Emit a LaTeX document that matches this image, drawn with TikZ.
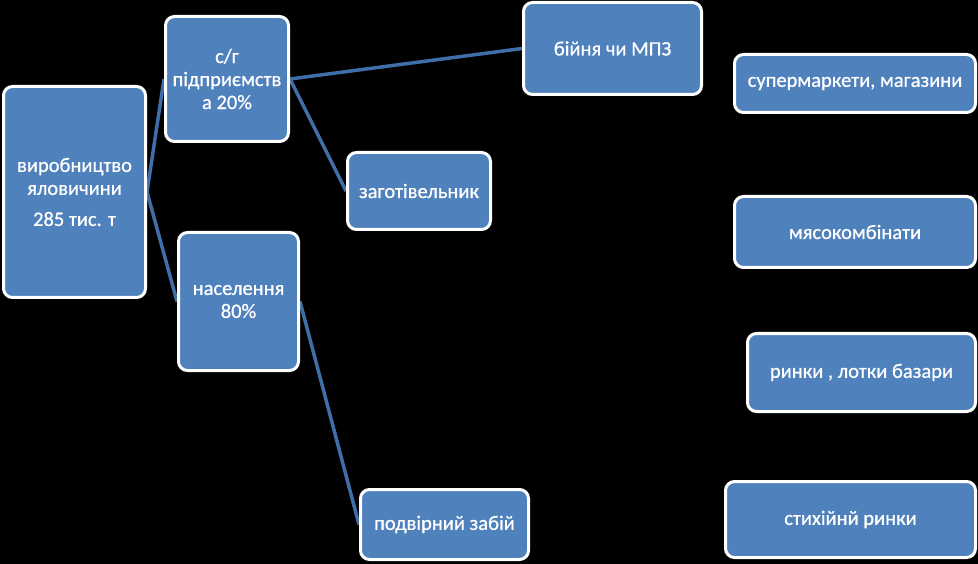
\documentclass[tikz,border=0pt]{standalone}
\usepackage{fontspec}
\setmainfont{Carlito}
\newfontfamily\boxfont[FakeBold=0.7]{Carlito}
\usetikzlibrary{backgrounds}
\definecolor{boxblue}{HTML}{4F81BD}
\definecolor{lineblue}{HTML}{3F6EA8}
\begin{document}
\begin{tikzpicture}[x=1pt,y=-1pt,
  box/.style={rectangle, rounded corners=9pt, fill=boxblue, draw=white, line width=3pt,
    text=white, align=center, inner sep=2pt,
    font=\boxfont\fontsize{20.5}{23}\selectfont},
  conn/.style={draw=lineblue, line width=3.5pt}]
\useasboundingbox (0,0) rectangle (978,564);
\node[box, minimum width=142pt, minimum height=211pt] (vyr) at (74.5,192) {виробництво\\яловичини\\[8pt]285 тис. т};
\node[box, minimum width=123pt, minimum height=125pt] (sg) at (227,79) {с/г\\підприємств\\а 20\%};
\node[box, minimum width=143pt, minimum height=77pt] (zag) at (419,191) {заготівельник};
\node[box, minimum width=120pt, minimum height=138pt] (nas) at (238.5,301.5) {населення\\80\%};
\node[box, minimum width=178pt, minimum height=92pt] (biy) at (612.5,48.5) {бійня чи МПЗ};
\node[box, minimum width=241pt, minimum height=58pt] (sup) at (855,83.5) {супермаркети, магазини};
\node[box, minimum width=241pt, minimum height=71pt] (mya) at (855,232) {мясокомбінати};
\node[box, minimum width=228pt, minimum height=78pt] (ryn) at (861.5,372.5) {ринки , лотки базари};
\node[box, minimum width=250pt, minimum height=76pt] (sty) at (850.5,519.5) {стихійнй ринки};
\node[box, minimum width=168pt, minimum height=70pt] (pod) at (444.5,524.5) {подвірний забій};
\begin{scope}[on background layer]
  \fill[black] (0,0) rectangle (978,564);
  \draw[conn] (vyr.east) -- (sg.west);
  \draw[conn] (vyr.east) -- (nas.west);
  \draw[conn] (sg.east) -- (biy.west);
  \draw[conn] (sg.east) -- (zag.west);
  \draw[conn] (nas.east) -- (pod.west);
\end{scope}
\end{tikzpicture}
\end{document}
